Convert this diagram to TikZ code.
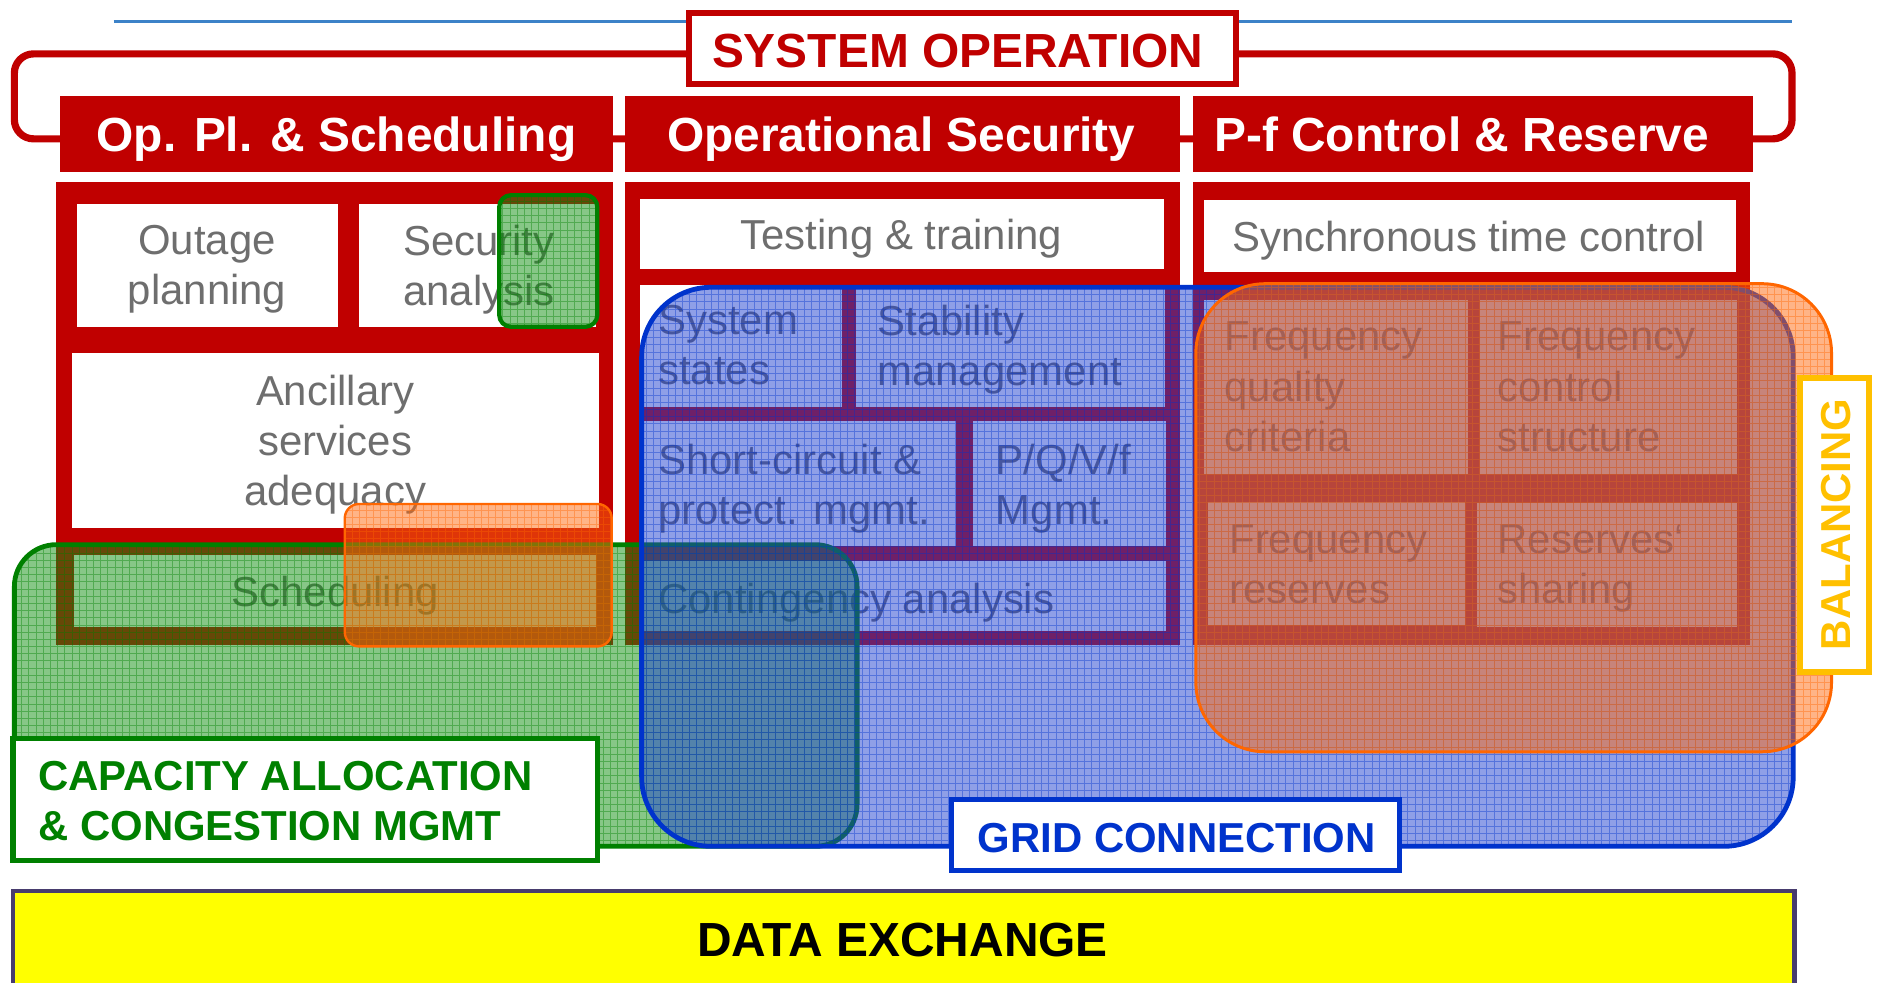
\documentclass[tikz,border=0pt]{standalone}
\usepackage{fontspec}
\setmainfont{Liberation Sans}
\usetikzlibrary{fit}
\definecolor{sored}{HTML}{C00000}
\definecolor{txtgrey}{HTML}{6E6E6E}
\definecolor{topblue}{HTML}{3C82C8}
\definecolor{grline}{HTML}{008000}
\definecolor{grfill}{HTML}{109010}
\definecolor{blline}{HTML}{0033CC}
\definecolor{blfill}{HTML}{2040D0}
\definecolor{orline}{HTML}{FF6600}
\definecolor{orfill}{HTML}{FF6A10}
\definecolor{goldc}{HTML}{FFC000}
\definecolor{dxborder}{HTML}{483C6E}
\definecolor{dxfill}{HTML}{FFFF00}
\begin{document}
\begin{tikzpicture}[x=1pt,y=-1pt,
  every node/.style={inner sep=0pt, outer sep=0pt},
  panel/.style={fill=sored},
  wbox/.style={fill=white},
  hdrbox/.style={fill=sored},
  hdrtxt/.style={text=white, font=\bfseries\fontsize{40}{48}\selectfont, text height=28.6pt, text depth=0pt},
  gtxt/.style={text=txtgrey, font=\fontsize{35}{42}\selectfont},
  ltxt/.style={gtxt, align=left, anchor=north west},
  ctxt/.style={gtxt, align=center, anchor=north},
  stxt/.style={gtxt, text height=25pt, text depth=0pt},
  ovl/.style 2 args={draw=#1, fill=#2, fill opacity=0.5, line width=4pt,
    path picture={\draw[#1, line width=0.5pt, draw opacity=0.4]
      (path picture bounding box.south west) grid[step=6pt] (path picture bounding box.north east);}},
  lblbox/.style={draw=#1, fill=white, line width=4.5pt},
  lbltxt/.style={text=#1, font=\bfseries\fontsize{35}{42}\selectfont},
]
\useasboundingbox (0,0) rectangle (1568,821);

% top blue rule
\coordinate (tl1) at (95,18);
\coordinate (tl2) at (1497,18);
\draw[topblue, line width=2.5pt] (tl1) -- (tl2);

% red bracket
\draw[sored, line width=6pt, rounded corners=16pt] (12,45) rectangle (1497,116);

% SYSTEM OPERATION
\node[fit={(575.5,10.5) (1032.5,70.5)}, draw=sored, line width=5pt, fill=white] (sobox) {};
\node[text=sored, font=\bfseries\fontsize{40}{48}\selectfont, text height=28.6pt, text depth=0pt] (sotxt) at (800,42) {SYSTEM OPERATION};

% headers
\node[hdrbox, fit={(50,80) (512,144)}] (h1) {};
\node[hdrbox, fit={(522,80) (986,144)}] (h2) {};
\node[hdrbox, fit={(997,80) (1464,144)}] (h3) {};
\node[hdrtxt] (h1t) at (281,112) {Op. Pl. \& Scheduling};
\node[hdrtxt] (h2t) at (753,112) {Operational Security};
\node[hdrtxt] (h3t) at (1221,112) {P-f Control \& Reserve};

% panels
\node[panel, fit={(47,152) (512,539)}] (p1) {};
\node[panel, fit={(522,152) (986,539)}] (p2) {};
\node[panel, fit={(997,152) (1462,539)}] (p3) {};

% left panel boxes
\node[wbox, fit={(64,170) (282,273)}] (b11) {};
\node[wbox, fit={(300,170) (498,273)}] (b12) {};
\node[wbox, fit={(60,295) (500,441)}] (b13) {};
\node[wbox, fit={(62,464) (498,524)}] (b14) {};
\node[ctxt] (t11) at (173,188) {Outage\\planning};
\node[ctxt] (t12) at (400,188) {Security\\analysis};
\node[ctxt] (t13) at (280,313) {Ancillary\\services\\adequacy};
\node[stxt] (t14) at (280,494) {Scheduling};

% middle panel boxes
\node[wbox, fit={(535,166) (972,225)}] (b21) {};
\node[wbox, fit={(535,238) (703,340)}] (b22) {};
\node[wbox, fit={(715,238) (973,340)}] (b23) {};
\node[wbox, fit={(535,352) (799,456)}] (b24) {};
\node[wbox, fit={(813,352) (974,456)}] (b25) {};
\node[wbox, fit={(535,469) (974,527)}] (b26) {};
\node[stxt] (t21) at (753,196) {Testing \& training};
\node[ltxt] (t22) at (550,255) {System\\states};
\node[ltxt] (t23) at (733,255) {Stability\\management};
\node[ltxt] (t24) at (550,371) {Short-circuit \&\\protect. mgmt.};
\node[ltxt] (t25) at (832,371) {P/Q/V/f\\Mgmt.};
\node[stxt, anchor=west] (t26) at (550,500) {Contingency analysis};

% right panel boxes
\node[wbox, fit={(1006,167) (1450,227)}] (b31) {};
\node[wbox, fit={(1006,251) (1226,396)}] (b32) {};
\node[wbox, fit={(1236,251) (1451,396)}] (b33) {};
\node[wbox, fit={(1009,419) (1224,522)}] (b34) {};
\node[wbox, fit={(1234,420) (1451,524)}] (b35) {};
\node[stxt] (t31) at (1227,198) {Synchronous time control};
\node[ltxt] (t32) at (1023,269) {Frequency\\quality\\criteria};
\node[ltxt] (t33) at (1251,269) {Frequency\\control\\structure};
\node[ltxt] (t34) at (1027,438) {Frequency\\reserves};
\node[ltxt] (t35) at (1251,438) {Reserves‘\\sharing};

% overlays
\path[ovl={grline}{grfill}, rounded corners=35pt] (12,455) rectangle (716,707);
\path[ovl={blline}{blfill}, rounded corners=58pt] (536,240) rectangle (1498,707);
\path[ovl={orline}{orfill}, line width=2.5pt, rounded corners=58pt] (999,237) rectangle (1530,628);
\path[ovl={grline}{grfill}, line width=3.5pt, rounded corners=10pt] (417,163) rectangle (499,273);
\path[ovl={orline}{orfill}, line width=2pt, rounded corners=12pt] (288,421) rectangle (511,540);

% labels
\node[lblbox=grline, fit={(11,617) (499,719)}] (capbox) {};
\node[lbltxt=grline, align=left, anchor=north west] (captxt) at (32,636) {CAPACITY ALLOCATION\\\& CONGESTION MGMT};
\node[lblbox=blline, fit={(795,668) (1169,727)}] (gridbox) {};
\node[lbltxt=blline, text height=25pt, text depth=0pt] (gridtxt) at (983,700) {GRID CONNECTION};
\node[lblbox=goldc, line width=5pt, fit={(1503.5,315.5) (1561.5,561.5)}] (balbox) {};
\node[lbltxt=goldc, rotate=90, text height=25pt, text depth=0pt] (baltxt) at (1533,438) {BALANCING};

% data exchange
\node[fit={(11,744) (1499,830)}, draw=dxborder, line width=3.5pt, fill=dxfill] (dxbox) {};
\node[text=black, font=\bfseries\fontsize{40}{48}\selectfont, text height=28.6pt, text depth=0pt] (dxtxt) at (754,785) {DATA EXCHANGE};
\end{tikzpicture}
\end{document}
